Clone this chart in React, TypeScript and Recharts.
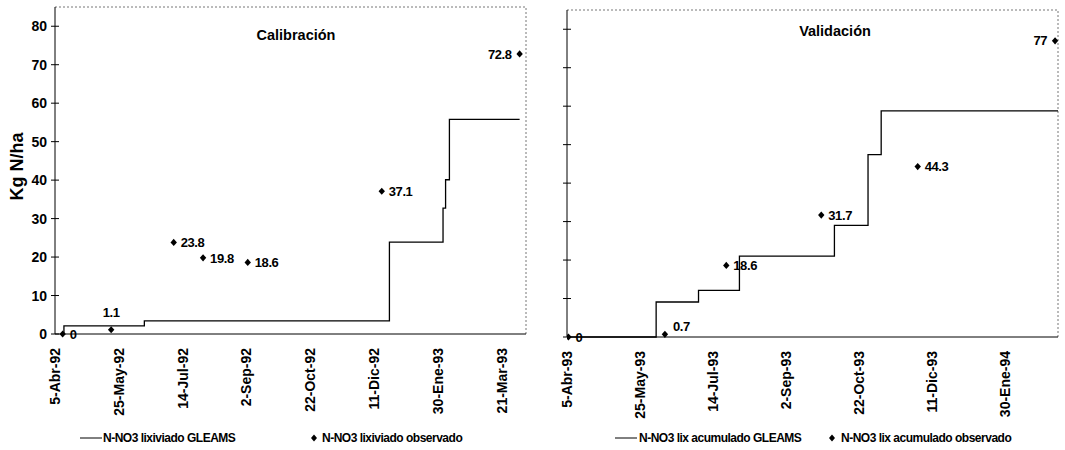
import React from 'react';
import { ComposedChart, Line, Scatter, XAxis, YAxis, ReferenceLine, LabelList, Legend } from 'recharts';

const FONT = '"Liberation Sans", Arial, Helvetica, sans-serif';

// ---------- Calibración (left) ----------
const calObsDates = ['1992-04-11', '1992-05-19', '1992-07-07', '1992-07-30', '1992-09-03', '1992-12-17', '1993-04-04'];
const calObserved = [0, 1.1, 23.8, 19.8, 18.6, 37.1, 72.8];
const calModelDates = ['1992-04-12', '1992-04-12', '1992-06-14', '1992-12-23', '1993-02-03', '1993-02-05', '1993-02-08', '1993-04-04'];
const calModel = [0, 2.1, 3.4, 23.9, 32.7, 40.1, 55.8, 55.8];
const calTickDates = ['1992-04-05', '1992-05-25', '1992-07-14', '1992-09-02', '1992-10-22', '1992-12-11', '1993-01-30', '1993-03-21'];
const calTickLabels = ['5-Abr-92', '25-May-92', '14-Jul-92', '2-Sep-92', '22-Oct-92', '11-Dic-92', '30-Ene-93', '21-Mar-93'];
const calRange = ['1992-04-05', '1993-04-09'];
const calTitle = 'Calibración';
const calModelName = 'N-NO3 lixiviado GLEAMS';
const calObsName = 'N-NO3 lixiviado observado';

// ---------- Validación (right) ----------
const valObsDates = ['1993-04-06', '1993-06-11', '1993-07-23', '1993-09-26', '1993-12-01', '1994-03-05'];
const valObserved = [0, 0.7, 18.6, 31.7, 44.3, 77];
const valModelDates = ['1993-04-05', '1993-06-05', '1993-06-05', '1993-07-04', '1993-08-01', '1993-10-05', '1993-10-28', '1993-11-06', '1994-03-07'];
const valModel = [0, 0, 9.1, 12.1, 21.0, 29.0, 47.4, 58.8, 58.8];
const valTickDates = ['1993-04-05', '1993-05-25', '1993-07-14', '1993-09-02', '1993-10-22', '1993-12-11', '1994-01-30'];
const valTickLabels = ['5-Abr-93', '25-May-93', '14-Jul-93', '2-Sep-93', '22-Oct-93', '11-Dic-93', '30-Ene-94'];
const valRange = ['1993-04-05', '1994-03-07'];
const valTitle = 'Validación';
const valModelName = 'N-NO3 lix acumulado GLEAMS';
const valObsName = 'N-NO3 lix acumulado observado';

const yTicks = [0, 10, 20, 30, 40, 50, 60, 70, 80];
const yMax = 85;
const yLabel = 'Kg N/ha';

// label placement (style, kept apart from data)
const calPlace = ['right', 'top', 'right', 'right', 'right', 'right', 'left'];
const valPlace = ['right', 'topright', 'right', 'right', 'right', 'left'];

const toDay = (s: string) => {
  const [y, m, d] = s.split('-').map(Number);
  return Date.UTC(y, m - 1, d) / 86400000;
};
const zipXY = (dates: string[], vals: number[]) => dates.map((d, i) => ({ x: toDay(d), y: vals[i] }));

const Diamond = (props: any) => {
  const { cx, cy } = props;
  if (cx == null || cy == null) return null;
  return <polygon points={`${cx},${cy - 3.6} ${cx + 3.2},${cy} ${cx},${cy + 3.6} ${cx - 3.2},${cy}`} fill="#000" />;
};

const makeLabel = (place: string[]) => (props: any) => {
  const vb = props.viewBox || props;
  const cx = vb.x + (vb.width || 0) / 2;
  const cy = vb.y + (vb.height || 0) / 2;
  const p = place[props.index] || 'right';
  let x = cx + 7;
  let y = cy;
  let anchor: any = 'start';
  if (p === 'left') { x = cx - 8; anchor = 'end'; }
  if (p === 'top') { x = cx; y = cy - 17; anchor = 'middle'; }
  if (p === 'topright') { x = cx + 8; y = cy - 8; anchor = 'start'; }
  return (
    <text x={x} y={y} dy="0.36em" textAnchor={anchor} fontSize={13} fontWeight="bold" letterSpacing={-0.4} fontFamily={FONT} fill="#000">
      {String(props.value)}
    </text>
  );
};

const makeYTick = (showLabel: boolean) => (props: any) => {
  const { x, y, payload } = props;
  const ax = x + 8;
  return (
    <g>
      <line x1={ax - 4} x2={ax + 4} y1={y} y2={y} stroke="#000" strokeWidth={1} />
      {showLabel && (
        <text x={x} y={y} dy="0.36em" textAnchor="end" fontSize={14} fontWeight="bold" fontFamily={FONT} fill="#000">
          {payload.value}
        </text>
      )}
    </g>
  );
};

const makeXTick = (dates: string[], labels: string[]) => (props: any) => {
  const { x, y, payload } = props;
  const i = dates.findIndex((d) => toDay(d) === payload.value);
  return (
    <text
      x={x}
      y={y}
      dy="0.36em"
      transform={`rotate(-90, ${x}, ${y})`}
      textAnchor="end"
      fontSize={14}
      fontWeight="bold"
      fontFamily={FONT}
      fill="#000"
    >
      {i >= 0 ? labels[i] : ''}
    </text>
  );
};

type LegendItem = { kind: 'line' | 'diamond'; x: number; tx: number };
const makeLegend = (items: LegendItem[], names: string[]) => (props: any) => {
  const payload: any[] = props.payload || [];
  return (
    <div style={{ position: 'relative', width: '100%', height: 24, fontFamily: FONT, fontSize: 12, fontWeight: 'bold', letterSpacing: -0.5, color: '#000' }}>
      {items.map((it, i) => {
        const entry = payload.find((p) => (it.kind === 'line' ? p.type === 'line' : p.type !== 'line'));
        const text = entry && entry.value ? entry.value : names[i];
        return (
          <React.Fragment key={i}>
            {it.kind === 'line' ? (
              <svg style={{ position: 'absolute', left: it.x, top: 7 }} width={22} height={10}>
                <line x1={0} x2={22} y1={5} y2={5} stroke="#000" strokeWidth={1} />
              </svg>
            ) : (
              <svg style={{ position: 'absolute', left: it.x - 4, top: 8 }} width={8} height={8}>
                <polygon points="4,0.5 7,4 4,7.5 1,4" fill="#000" />
              </svg>
            )}
            <span style={{ position: 'absolute', left: it.tx, top: 0, lineHeight: '24px', whiteSpace: 'nowrap' }}>{text}</span>
          </React.Fragment>
        );
      })}
    </div>
  );
};

const YLabelContent = (props: any) => {
  const vb = props.viewBox || { x: 0, y: 0, width: 55, height: 327 };
  const cx = vb.x + 17;
  const cy = vb.y + vb.height / 2 - 4;
  return (
    <text
      x={cx}
      y={cy}
      dy="0.36em"
      transform={`rotate(-90, ${cx}, ${cy})`}
      textAnchor="middle"
      fontSize={18}
      fontWeight="bold"
      fontFamily={FONT}
      fill="#000"
    >
      {yLabel}
    </text>
  );
};

type PanelProps = {
  width: number;
  margin: any;
  yAxisWidth: number;
  xAxisHeight: number;
  showYLabels: boolean;
  model: { x: number; y: number }[];
  obs: { x: number; y: number }[];
  range: string[];
  tickDates: string[];
  tickLabels: string[];
  place: string[];
  modelName: string;
  obsName: string;
  legendItems: LegendItem[];
  withYTitle: boolean;
};

const Panel = (p: PanelProps) => {
  const xMin = toDay(p.range[0]);
  const xMax = toDay(p.range[1]);
  return (
    <ComposedChart width={p.width} height={450} margin={p.margin}>
      <XAxis
        type="number"
        dataKey="x"
        domain={[xMin, xMax]}
        ticks={p.tickDates.map(toDay)}
        interval={0}
        height={p.xAxisHeight}
        tickLine={false}
        tickSize={6}
        tickMargin={8}
        tick={makeXTick(p.tickDates, p.tickLabels)}
        axisLine={{ stroke: '#000', strokeWidth: 1 }}
        allowDataOverflow
      />
      <YAxis
        type="number"
        domain={[0, yMax]}
        ticks={yTicks}
        interval={0}
        width={p.yAxisWidth}
        tickLine={false}
        tickSize={4}
        tickMargin={4}
        tick={makeYTick(p.showYLabels)}
        axisLine={{ stroke: '#000', strokeWidth: 1 }}
        label={p.withYTitle ? { content: YLabelContent } : undefined}
      />
      <ReferenceLine y={yMax} stroke="#777" strokeDasharray="2 2" strokeWidth={1} />
      <ReferenceLine x={xMax} stroke="#777" strokeDasharray="2 2" strokeWidth={1} />
      <Line
        data={p.model}
        dataKey="y"
        type="stepAfter"
        stroke="#000"
        strokeWidth={1.3}
        dot={false}
        activeDot={false}
        isAnimationActive={false}
        name={p.modelName}
        legendType="line"
      />
      <Scatter
        data={p.obs}
        dataKey="y"
        name={p.obsName}
        shape={Diamond}
        legendType="diamond"
        isAnimationActive={false}
      >
        <LabelList dataKey="y" content={makeLabel(p.place)} />
      </Scatter>
      <Legend
        verticalAlign="bottom"
        height={24}
        content={makeLegend(p.legendItems, [p.modelName, p.obsName])}
        wrapperStyle={{ left: 0, bottom: 0, width: p.width, height: 24 }}
      />
    </ComposedChart>
  );
};

export default function App() {
  const calModelData = zipXY(calModelDates, calModel);
  const calObsData = zipXY(calObsDates, calObserved);
  const valModelData = zipXY(valModelDates, valModel);
  const valObsData = zipXY(valObsDates, valObserved);
  return (
    <div style={{ position: 'absolute', left: 0, top: 0, width: 1065, height: 450, background: '#fff', fontFamily: FONT }}>
      <div style={{ position: 'absolute', left: 0, top: 0 }}>
        <Panel
          width={530}
          margin={{ top: 7, right: 4, bottom: 0, left: 0 }}
          yAxisWidth={55}
          xAxisHeight={92}
          showYLabels
          model={calModelData}
          obs={calObsData}
          range={calRange}
          tickDates={calTickDates}
          tickLabels={calTickLabels}
          place={calPlace}
          modelName={calModelName}
          obsName={calObsName}
          legendItems={[{ kind: 'line', x: 80, tx: 103 }, { kind: 'diamond', x: 314, tx: 322 }]}
          withYTitle
        />
      </div>
      <div style={{ position: 'absolute', left: 530, top: 0 }}>
        <Panel
          width={535}
          margin={{ top: 10, right: 7, bottom: 0, left: 0 }}
          yAxisWidth={37}
          xAxisHeight={89}
          showYLabels={false}
          model={valModelData}
          obs={valObsData}
          range={valRange}
          tickDates={valTickDates}
          tickLabels={valTickLabels}
          place={valPlace}
          modelName={valModelName}
          obsName={valObsName}
          legendItems={[{ kind: 'line', x: 85, tx: 109 }, { kind: 'diamond', x: 302, tx: 311 }]}
          withYTitle={false}
        />
      </div>
      <svg style={{ position: 'absolute', left: 0, top: 0, pointerEvents: 'none' }} width={1065} height={450}>
        <text x={296} y={40} textAnchor="middle" fontSize={14.5} fontWeight="bold" fontFamily={FONT} fill="#000">
          {calTitle}
        </text>
        <text x={835} y={36} textAnchor="middle" fontSize={14.5} fontWeight="bold" fontFamily={FONT} fill="#000">
          {valTitle}
        </text>
      </svg>
    </div>
  );
}
